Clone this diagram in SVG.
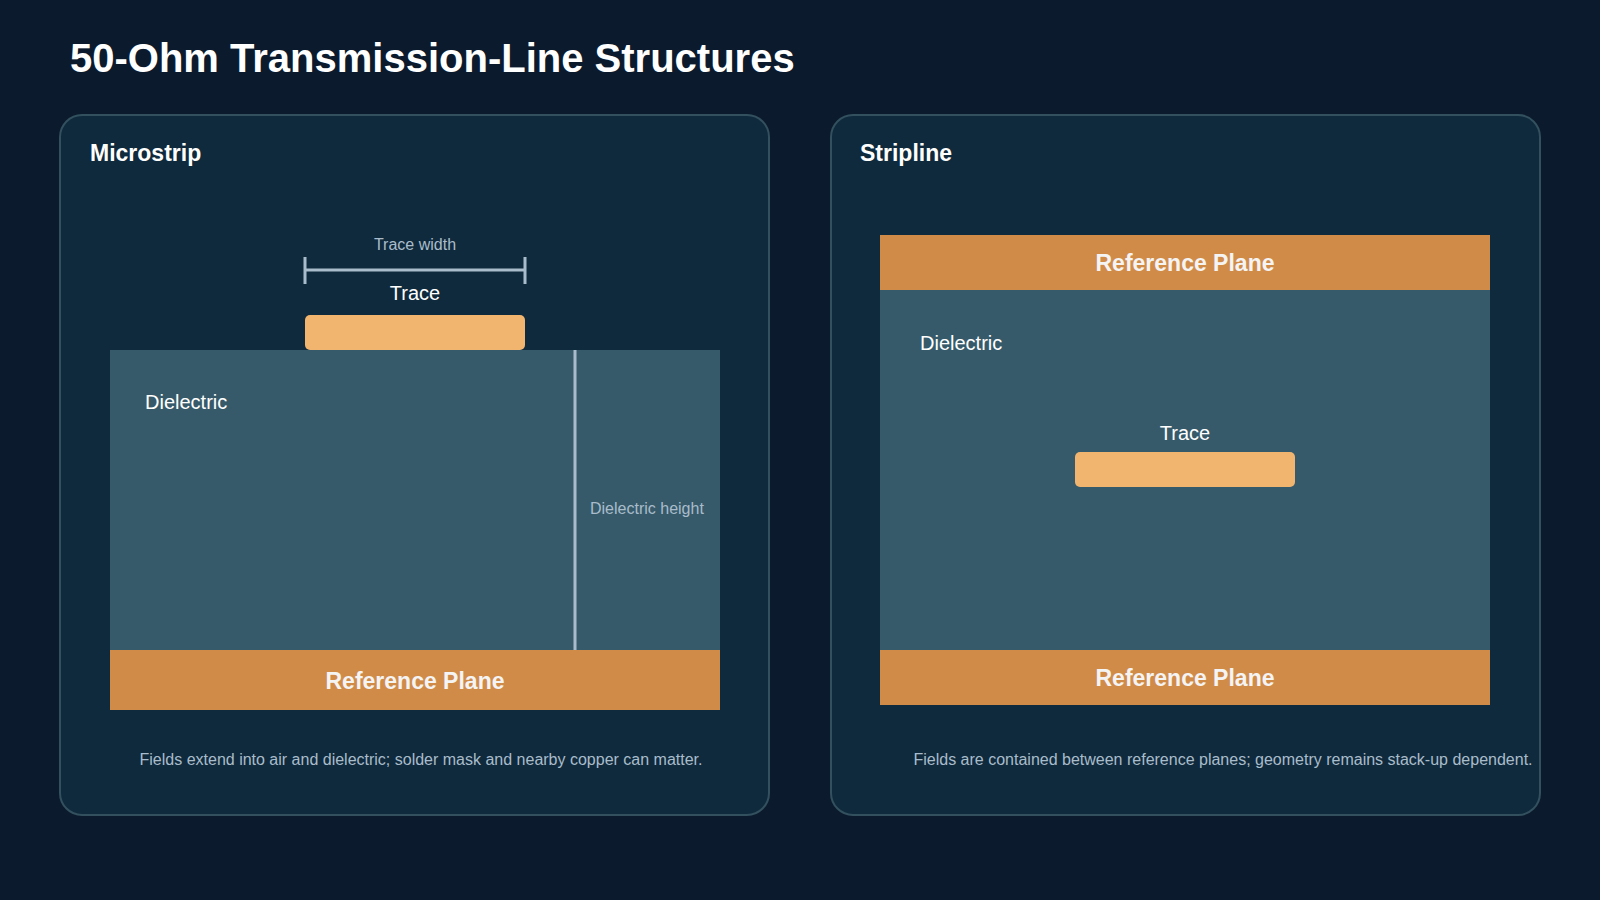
<svg xmlns="http://www.w3.org/2000/svg" width="1600" height="900" viewBox="0 0 1600 900">
<style>
text{font-family:"Liberation Sans",Arial,sans-serif}
.panel{fill:#0f2a3c;stroke:#33505f;stroke-width:2}
.diel{fill:#365a6a}
.plane{fill:#d18b49}
.trace{fill:#f2b56f}
.pt{fill:#fff;font-size:23px;font-weight:bold}
.pl{fill:#f4f4f4;font-size:23px;font-weight:bold;text-anchor:middle}
.lab{fill:#fff;font-size:20px}
.dim{fill:#a9bccb;font-size:16px}
.foot{fill:#a9bccb;font-size:16px;text-anchor:middle}
.dl{stroke:#a9bccb;stroke-width:3;fill:none}
</style>
<rect width="1600" height="900" fill="#0b1b2d"/>
<text x="70" y="72" fill="#fff" font-size="40" font-weight="bold">50-Ohm Transmission-Line Structures</text>
<g id="microstrip">
<rect class="panel" x="60" y="115" width="709" height="700" rx="22"/>
<text class="pt" x="90" y="161">Microstrip</text>
<rect class="diel" x="110" y="350" width="610" height="301"/>
<rect class="plane" x="110" y="650" width="610" height="60"/>
<text class="pl" x="415" y="689">Reference Plane</text>
<rect class="trace" x="305" y="315" width="220" height="35" rx="5"/>
<text class="lab" x="415" y="300" text-anchor="middle">Trace</text>
<text class="lab" x="145" y="409">Dielectric</text>
<text class="dim" x="415" y="250" text-anchor="middle">Trace width</text>
<text class="dim" x="590" y="514">Dielectric height</text>
<text class="foot" x="421" y="765">Fields extend into air and dielectric; solder mask and nearby copper can matter.</text>
</g>
<g id="stripline">
<rect class="panel" x="831" y="115" width="709" height="700" rx="22"/>
<text class="pt" x="860" y="161">Stripline</text>
<rect class="diel" x="880" y="290" width="610" height="361"/>
<rect class="plane" x="880" y="235" width="610" height="55"/>
<text class="pl" x="1185" y="271">Reference Plane</text>
<rect class="plane" x="880" y="650" width="610" height="55"/>
<text class="pl" x="1185" y="686">Reference Plane</text>
<text class="lab" x="920" y="350">Dielectric</text>
<text class="lab" x="1185" y="440" text-anchor="middle">Trace</text>
<rect class="trace" x="1075" y="452" width="220" height="35" rx="5"/>
<text class="foot" x="1223" y="765">Fields are contained between reference planes; geometry remains stack-up dependent.</text>
</g>
<g id="connectors">
<path class="dl" d="M305 270H525M305 257V284M525 257V284"/>
<path class="dl" d="M575 350V650"/>
</g>
</svg>
